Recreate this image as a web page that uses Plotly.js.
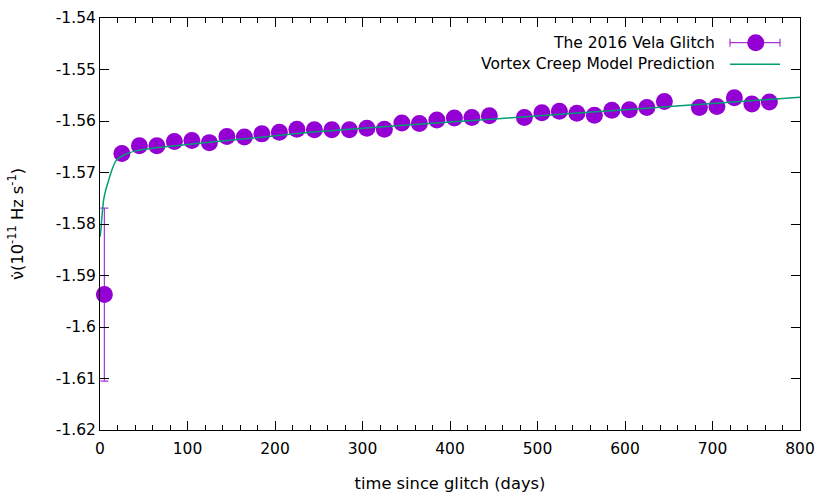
<!DOCTYPE html>
<html>
<head>
<meta charset="utf-8">
<script src="https://cdn.plot.ly/plotly-3.0.1.min.js"></script>
<style>
  body { margin: 0; background: #fff; }
  #grafico { width: 830px; height: 498px; }
</style>
</head>
<body>
<div id="grafico"></div>
<script>
// datos
const dias = [5, 25, 45, 65, 85, 105, 125, 145, 165, 185, 205, 225, 245, 265, 285, 305, 325, 345, 365, 385,
  405, 425, 445, 485, 505, 525, 545, 565, 585, 605, 625, 645, 685, 705, 725, 745, 765];
const nudot = [-1.5937, -1.5663, -1.5648, -1.5648, -1.5640, -1.5638, -1.5642, -1.5630, -1.5631, -1.5625,
  -1.5622, -1.5616, -1.5617, -1.5617, -1.5617, -1.5614, -1.5616, -1.5604, -1.5605, -1.5598,
  -1.5594, -1.5593, -1.5590, -1.5593, -1.5584, -1.5581, -1.5585, -1.5589, -1.5579, -1.5578,
  -1.5574, -1.5562, -1.5574, -1.5572, -1.5555, -1.5567, -1.5563];
const errores = [0.0168, 0.0003, 0.0003, 0.0003, 0.0003, 0.0003, 0.0003, 0.0003, 0.0003, 0.0003,
  0.0003, 0.0003, 0.0003, 0.0003, 0.0003, 0.0003, 0.0003, 0.0003, 0.0003, 0.0003,
  0.0003, 0.0003, 0.0003, 0.0003, 0.0003, 0.0003, 0.0003, 0.0003, 0.0003, 0.0003,
  0.0003, 0.0003, 0.0003, 0.0003, 0.0003, 0.0003, 0.0003];

// curva del modelo
const modeloDias = [0, 1, 2, 4, 6, 9, 13, 18, 26, 41, 64, 87, 133, 187, 240, 300, 400, 526, 617, 700, 800];
const modeloNudot = [-1.5825, -1.5812, -1.5790, -1.5755, -1.5738, -1.5720, -1.5698, -1.5678, -1.5667,
  -1.5658, -1.5652, -1.5648, -1.5640, -1.5631, -1.5622, -1.5614, -1.5602, -1.5587, -1.5576, -1.5566, -1.5554];

const yTicks = [-1.62, -1.61, -1.60, -1.59, -1.58, -1.57, -1.56, -1.55, -1.54];
const yTickText = ["-1.62", "-1.61", "-1.6", "-1.59", "-1.58", "-1.57", "-1.56", "-1.55", "-1.54"];

const nombreDatos = "The 2016 Vela Glitch";
const nombreModelo = "Vortex Creep Model Prediction";

const violeta = "#9400d3";
const verde = "#009e73";
const fuente = "DejaVu Sans, sans-serif";
const tam = 15.5;
const tamTitulo = 16.3;

const margen = { l: 100, r: 30, t: 18, b: 68 };
const ancho = 830 - margen.l - margen.r;
const alto = 498 - margen.t - margen.b;

// pasar pixeles de la imagen a coordenadas paper (solo para la leyenda)
function px(xp) { return (xp - margen.l) / ancho; }
function py(yp) { return (498 - margen.b - yp) / alto; }

const traceDatos = {
  x: dias,
  y: nudot,
  mode: "markers",
  type: "scatter",
  name: nombreDatos,
  cliponaxis: false,
  marker: { size: 17, color: violeta },
  error_y: { type: "data", array: errores, visible: true, color: "rgba(148,0,211,0.8)", thickness: 1.2, width: 4 }
};

const traceModelo = {
  x: modeloDias,
  y: modeloNudot,
  mode: "lines",
  type: "scatter",
  name: nombreModelo,
  line: { color: verde, width: 1.5, shape: "spline", smoothing: 0.6 }
};

// leyenda al estilo gnuplot: texto a la izquierda, muestra a la derecha
const leyY1 = 42.7, leyY2 = 64.3;
const colorBarra = "rgba(148,0,211,0.8)";
const leyenda = [
  { type: "line", xref: "paper", yref: "paper", x0: px(730), x1: px(780), y0: py(leyY1), y1: py(leyY1),
    line: { color: colorBarra, width: 1.2 } },
  { type: "line", xref: "paper", yref: "paper", x0: px(730), x1: px(730), y0: py(leyY1 - 4), y1: py(leyY1 + 4),
    line: { color: colorBarra, width: 1.2 } },
  { type: "line", xref: "paper", yref: "paper", x0: px(780), x1: px(780), y0: py(leyY1 - 4), y1: py(leyY1 + 4),
    line: { color: colorBarra, width: 1.2 } },
  { type: "circle", xref: "paper", yref: "paper", xsizemode: "pixel", ysizemode: "pixel",
    xanchor: px(755.7), yanchor: py(leyY1), x0: -8.5, x1: 8.5, y0: -8.5, y1: 8.5,
    fillcolor: violeta, line: { width: 0 } },
  { type: "line", xref: "paper", yref: "paper", x0: px(730), x1: px(780), y0: py(leyY2), y1: py(leyY2),
    line: { color: verde, width: 1.5 } }
];

const anotaciones = [
  { text: nombreDatos, xref: "paper", yref: "paper", x: px(717), y: py(leyY1), xanchor: "right", yanchor: "middle",
    showarrow: false, font: { family: fuente, size: tam, color: "#000" } },
  { text: nombreModelo, xref: "paper", yref: "paper", x: px(717), y: py(leyY2), xanchor: "right", yanchor: "middle",
    showarrow: false, font: { family: fuente, size: tam, color: "#000" } }
];

const layout = {
  width: 830,
  height: 498,
  margin: margen,
  showlegend: false,
  plot_bgcolor: "#fff",
  paper_bgcolor: "#fff",
  font: { family: fuente, size: tam, color: "#000" },
  xaxis: {
    range: [0, 800],
    tickvals: [0, 100, 200, 300, 400, 500, 600, 700, 800],
    ticks: "inside",
    ticklen: 9,
    tickcolor: "#000",
    ticklabelstandoff: 4,
    minor: { dtick: 20, ticks: "inside", ticklen: 5, tickcolor: "#000" },
    showline: true,
    linecolor: "#000",
    linewidth: 1,
    mirror: "allticks",
    showgrid: false,
    zeroline: false,
    title: { text: "time since glitch (days)", standoff: 20, font: { family: fuente, size: tamTitulo, color: "#000" } }
  },
  yaxis: {
    range: [-1.62, -1.54],
    tickvals: yTicks,
    ticktext: yTickText,
    ticks: "inside",
    ticklen: 9,
    tickcolor: "#000",
    showline: true,
    linecolor: "#000",
    linewidth: 1,
    mirror: "allticks",
    showgrid: false,
    zeroline: false,
    title: { text: "ν̇(10<sup>-11</sup> Hz s<sup>-1</sup>)", standoff: 28, font: { family: fuente, size: tamTitulo, color: "#000" } }
  },
  shapes: leyenda,
  annotations: anotaciones
};

Plotly.newPlot("grafico", [traceDatos, traceModelo], layout, { staticPlot: true });
</script>
</body>
</html>
